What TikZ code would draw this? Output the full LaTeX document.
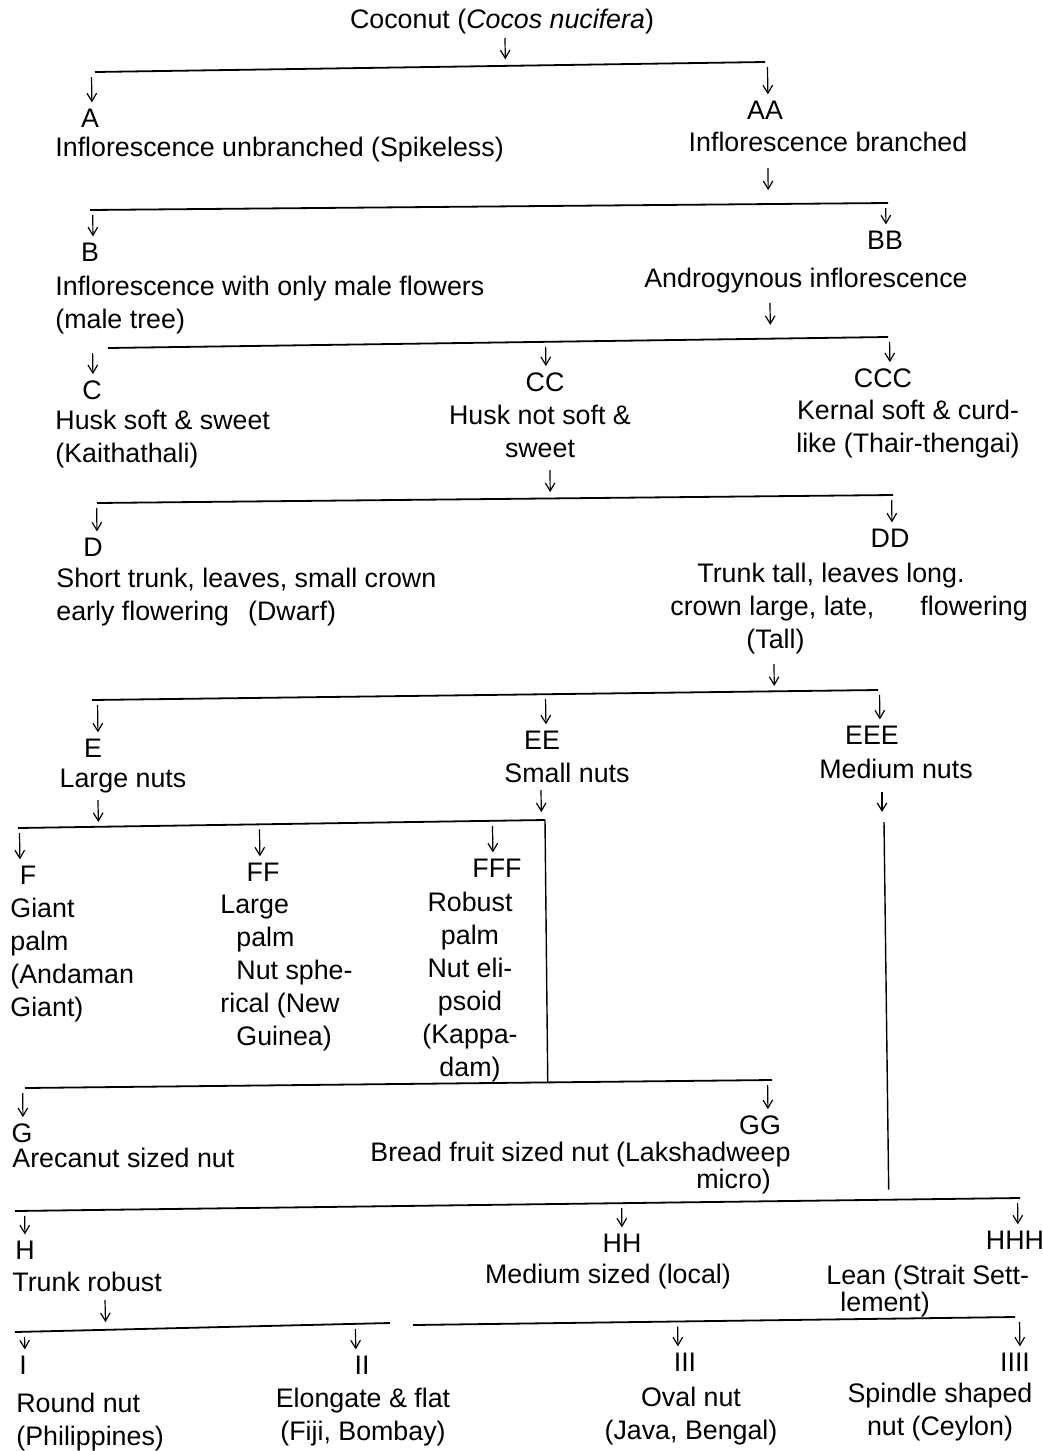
\documentclass[tikz,border=0pt]{standalone}
\usepackage{fontspec}
\setmainfont{Liberation Sans}
\usetikzlibrary{arrows.meta,calc}
\newcommand\fs{\fontsize{13.4}{16.5}\selectfont}
% child arrow: from bar #1 down to node #2, x offset #3 (px)
\newcommand\carrow[3]{\draw[arr,shorten <=2.5pt,shorten >=3pt] ($(#1L)!([shift={(#3,0)}]#2.north)!(#1R)$) -- ([shift={(#3,0)}]#2.north);}
% parent arrow: from coordinate #1 down to bar #2, gap #3
\newcommand\parrow[3]{\draw[arr,shorten >=#3] (#1) -- ($(#2L)!(#1)!(#2R)$);}
\begin{document}
\begin{tikzpicture}[x=0.5pt,y=-0.5pt,
  txt/.style={inner sep=0pt,font=\fs},
  lbl/.style={inner sep=0pt,font=\fs},
  bar/.style={line width=0.9pt},
  vline/.style={line width=0.7pt},
  arr/.style={line width=0.6pt,-{Straight Barb[length=4pt,width=4.8pt]}}]
\useasboundingbox (0,0) rectangle (1043,1451);

% ---------- bars ----------
\coordinate (b1L) at (95,72);   \coordinate (b1R) at (765,62);
\coordinate (b2L) at (90,210);  \coordinate (b2R) at (888,203);
\coordinate (b3L) at (108,348); \coordinate (b3R) at (888,337);
\coordinate (b4L) at (97,503);  \coordinate (b4R) at (893,495);
\coordinate (b5L) at (92,700);  \coordinate (b5R) at (878,690);
\coordinate (b6L) at (18,828);  \coordinate (b6R) at (545,820);
\coordinate (b7L) at (25,1088); \coordinate (b7R) at (772,1080);
\coordinate (b8L) at (15,1211); \coordinate (b8R) at (1020,1198);
\coordinate (b9L) at (15,1332); \coordinate (b9R) at (390,1323);
\coordinate (b9bL) at (413,1325); \coordinate (b9bR) at (1015,1317);
\foreach \b in {b1,b2,b3,b4,b5,b6,b7,b8,b9,b9b} \draw[bar] (\b L) -- (\b R);

% ---------- texts ----------
\node[txt] (title) at (502,22) {Coconut (\textit{Cocos nucifera})};

\node[lbl] (A) at (90,118) {A};
\node[lbl] (AA) at (765,110) {AA};
\node[txt,anchor=west] (tA) at (55,150) {Inflorescence unbranched (Spikeless)};
\node[txt] (tAA) at (828,142) {Inflorescence branched};

\node[lbl] (B) at (90,252) {B};
\node[lbl] (BB) at (885,240) {BB};
\node[txt,align=left,anchor=north west] (tB) at (55,276) {Inflorescence with only male flowers\\(male tree)};
\node[txt] (tBB) at (806,281) {Androgynous inflorescence};

\node[lbl] (C) at (92,390) {C};
\node[lbl] (CC) at (545,382) {CC};
\node[lbl] (CCC) at (883,378) {CCC};
\node[txt,align=left,anchor=north west] (tC) at (55,410) {Husk soft \& sweet\\(Kaithathali)};
\node[txt,align=center,anchor=north] (tCC) at (540,405) {Husk not soft \&\\sweet};
\node[txt,align=center,anchor=north] (tCCC) at (908,400) {Kernal soft \& curd-\\like (Thair-thengai)};

\node[lbl] (D) at (93,547) {D};
\node[lbl] (DD) at (890,538) {DD};
\node[txt,align=left,anchor=north west] (tD) at (56,568) {Short trunk, leaves, small crown\\early flowering\hspace{9.5pt}(Dwarf)};
\node[txt,align=left,anchor=north west] (tDD) at (670,563) {\hspace*{13.5pt}Trunk tall, leaves long.\\crown large, late,\hspace{23pt}flowering\\\hspace*{38pt}(Tall)};

\node[lbl] (E) at (93,748) {E};
\node[lbl] (EE) at (542,740) {EE};
\node[lbl] (EEE) at (872,735) {EEE};
\node[txt] (tE) at (123,781) {Large nuts};
\node[txt] (tEE) at (567,773) {Small nuts};
\node[txt] (tEEE) at (896,769) {Medium nuts};

\node[lbl] (F) at (28,875) {F};
\node[lbl] (FF) at (263,872) {FF};
\node[lbl] (FFF) at (497,868) {FFF};
\node[txt,align=left,anchor=north west] (tF) at (10,898) {Giant\\palm\\(Andaman\\Giant)};
\node[txt,align=left,anchor=north west] (tFF) at (220,895) {Large\\\hspace*{8pt}palm\\\hspace*{8pt}Nut sphe-\\rical (New\\\hspace*{8pt}Guinea)};
\node[txt,align=center,anchor=north] (tFFF) at (470,892) {Robust\\palm\\Nut eli-\\psoid\\(Kappa-\\dam)};

\node[lbl] (G) at (22,1133) {G};
\node[lbl] (GG) at (760,1125) {GG};
\node[txt,anchor=west] (tG) at (12,1158) {Arecanut sized nut};
\node[txt,align=left,anchor=north west] (tGG) at (370,1142) {Bread fruit sized nut (Lakshadweep\\[-3pt]\hspace*{163pt}micro)};

\node[lbl] (H) at (25,1250) {H};
\node[lbl] (HH) at (622,1243) {HH};
\node[lbl] (HHH) at (1015,1240) {HHH};
\node[txt,anchor=west] (tH) at (12,1282) {Trunk robust};
\node[txt] (tHH) at (608,1277) {Medium sized (local)};
\node[txt,align=left,anchor=north west] (tHHH) at (826,1265) {Lean (Strait Sett-\\[-3pt]\hspace*{7pt}lement)};

\node[lbl] (I) at (23,1365) {I};
\node[lbl] (II) at (362,1365) {II};
\node[lbl] (III) at (685,1362) {III};
\node[lbl] (IIII) at (1015,1362) {IIII};
\node[txt,align=left,anchor=north west] (tI) at (16,1393) {Round nut\\(Philippines)};
\node[txt,align=center,anchor=north] (tII) at (363,1388) {Elongate \& flat\\(Fiji, Bombay)};
\node[txt,align=center,anchor=north] (tIII) at (691,1387) {Oval nut\\(Java, Bengal)};
\node[txt,align=center,anchor=north] (tIIII) at (940,1383) {Spindle shaped\\nut (Ceylon)};

% ---------- parent arrows ----------
\coordinate (p0) at (505,38);    \parrow{p0}{b1}{3.3pt}
\coordinate (pAA) at (768,168);  \parrow{pAA}{b2}{7pt}
\coordinate (pBB) at (770,303);  \parrow{pBB}{b3}{6.9pt}
\coordinate (pCC) at (550,470);  \parrow{pCC}{b4}{3.2pt}
\coordinate (pDD) at (774,664);  \parrow{pDD}{b5}{2.7pt}
\coordinate (pE) at (98,800);    \parrow{pE}{b6}{2.4pt}
\coordinate (pEE) at (541,790);  \parrow{pEE}{b6}{4pt}
\coordinate (pH) at (105,1300);  \parrow{pH}{b9}{3.9pt}
\coordinate (pEEE) at (882,792);
\coordinate (vE) at (884,822);
\draw[arr,shorten >=5pt] (pEEE) -- (pEEE |- vE);

% ---------- vertical connectors ----------
\draw[vline] (b6R) -- ($(b7L)!(b6R)!(b7R)$);
\draw[vline,shorten >=5pt] (vE) -- ($(b8L)!(vE)!(b8R)$);

% ---------- child arrows ----------
\carrow{b1}{A}{2} \carrow{b1}{AA}{3}
\carrow{b2}{B}{3} \carrow{b2}{BB}{1}
\carrow{b3}{C}{1} \carrow{b3}{CC}{1} \carrow{b3}{CCC}{7}
\carrow{b4}{D}{4} \carrow{b4}{DD}{2}
\carrow{b5}{E}{5} \carrow{b5}{EE}{4} \carrow{b5}{EEE}{8}
\carrow{b6}{F}{-8} \carrow{b6}{FF}{-3} \carrow{b6}{FFF}{-4}
\carrow{b7}{G}{1} \carrow{b7}{GG}{8}
\carrow{b8}{H}{0} \carrow{b8}{HH}{0} \carrow{b8}{HHH}{3}
\carrow{b9}{I}{2} \carrow{b9}{II}{-6} \carrow{b9b}{III}{-7} \carrow{b9b}{IIII}{5}
\end{tikzpicture}
\end{document}
